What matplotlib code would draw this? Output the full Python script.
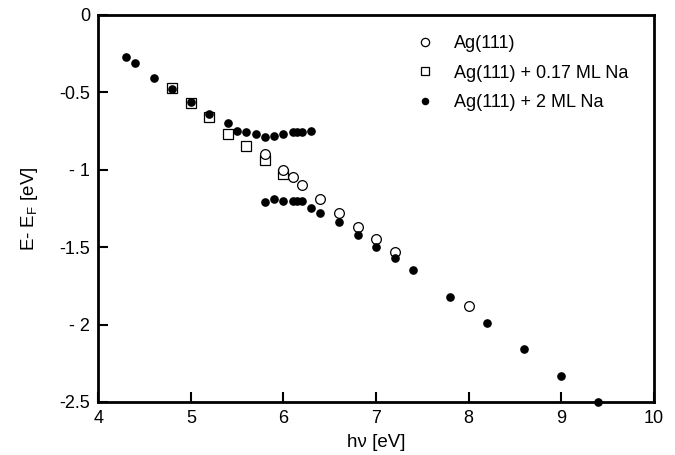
import matplotlib
matplotlib.use("Agg")
import matplotlib.pyplot as plt

plt.rcParams['font.family'] = ['Liberation Sans', 'DejaVu Sans']
plt.rcParams['mathtext.default'] = 'regular'
plt.rcParams['axes.unicode_minus'] = False

# Ag(111)
hv_ag = [5.8, 6.0, 6.1, 6.2, 6.4, 6.6, 6.8, 7.0, 7.2, 8.0]
e_ag = [-0.90, -1.00, -1.05, -1.10, -1.19, -1.28, -1.37, -1.45, -1.53, -1.88]

# Ag(111) + 0.17 ML Na
hv_na017 = [4.8, 5.0, 5.2, 5.4, 5.6, 5.8, 6.0]
e_na017 = [-0.47, -0.57, -0.66, -0.77, -0.85, -0.94, -1.03]

# Ag(111) + 2 ML Na  (upper branch, then lower branch)
hv_na2_up = [4.3, 4.4, 4.6, 4.8, 5.0, 5.2, 5.4, 5.5, 5.6, 5.7, 5.8, 5.9, 6.0,
             6.1, 6.15, 6.2, 6.3]
e_na2_up = [-0.27, -0.31, -0.41, -0.48, -0.56, -0.64, -0.70, -0.75, -0.76,
            -0.77, -0.79, -0.78, -0.77, -0.76, -0.76, -0.76, -0.75]
hv_na2_low = [5.8, 5.9, 6.0, 6.1, 6.15, 6.2, 6.3, 6.4, 6.6, 6.8, 7.0, 7.2,
              7.4, 7.8, 8.2, 8.6, 9.0, 9.4]
e_na2_low = [-1.21, -1.19, -1.20, -1.20, -1.20, -1.20, -1.25, -1.28, -1.34,
             -1.42, -1.50, -1.57, -1.65, -1.82, -1.99, -2.16, -2.33, -2.50]

x_ticks = [4, 5, 6, 7, 8, 9, 10]
y_ticks = [0, -0.5, -1, -1.5, -2, -2.5]
y_ticklabels = ['0', '-0.5', '- 1', '-1.5', '- 2', '-2.5']

fig = plt.figure(figsize=(6.75, 4.55), dpi=100)
ax = fig.add_axes([0.1456, 0.1165, 0.823, 0.851])

ax.plot(hv_ag, e_ag, 'o', ms=7, mfc='white', mec='black', mew=0.9,
        label='Ag(111)', zorder=3)
ax.plot(hv_na017, e_na017, 's', ms=6.5, mfc='white', mec='black', mew=0.9,
        label='Ag(111) + 0.17 ML Na', zorder=2)
ax.plot(hv_na2_up + hv_na2_low, e_na2_up + e_na2_low, 'o', ms=5.2,
        color='black', label='Ag(111) + 2 ML Na', zorder=4, clip_on=False)

ax.set_xlim(4, 10)
ax.set_ylim(-2.5, 0)
ax.set_xticks(x_ticks)
ax.set_yticks(y_ticks)
ax.set_yticklabels(y_ticklabels)
ax.tick_params(direction='in', length=7, width=1.5, labelsize=13,
               top=False, right=False, pad=6)
for s in ax.spines.values():
    s.set_linewidth(2)

ax.set_xlabel('h\u03bd [eV]', fontsize=13.5, labelpad=5)
ax.set_ylabel('E- E$_F$ [eV]', fontsize=13.5, labelpad=14)

leg = ax.legend(loc='upper left', bbox_to_anchor=(0.54, 0.99), frameon=False,
                fontsize=13, handlelength=1.2, handletextpad=1.0,
                labelspacing=0.7, markerscale=0.85)

fig.savefig('out.png', dpi=100)
